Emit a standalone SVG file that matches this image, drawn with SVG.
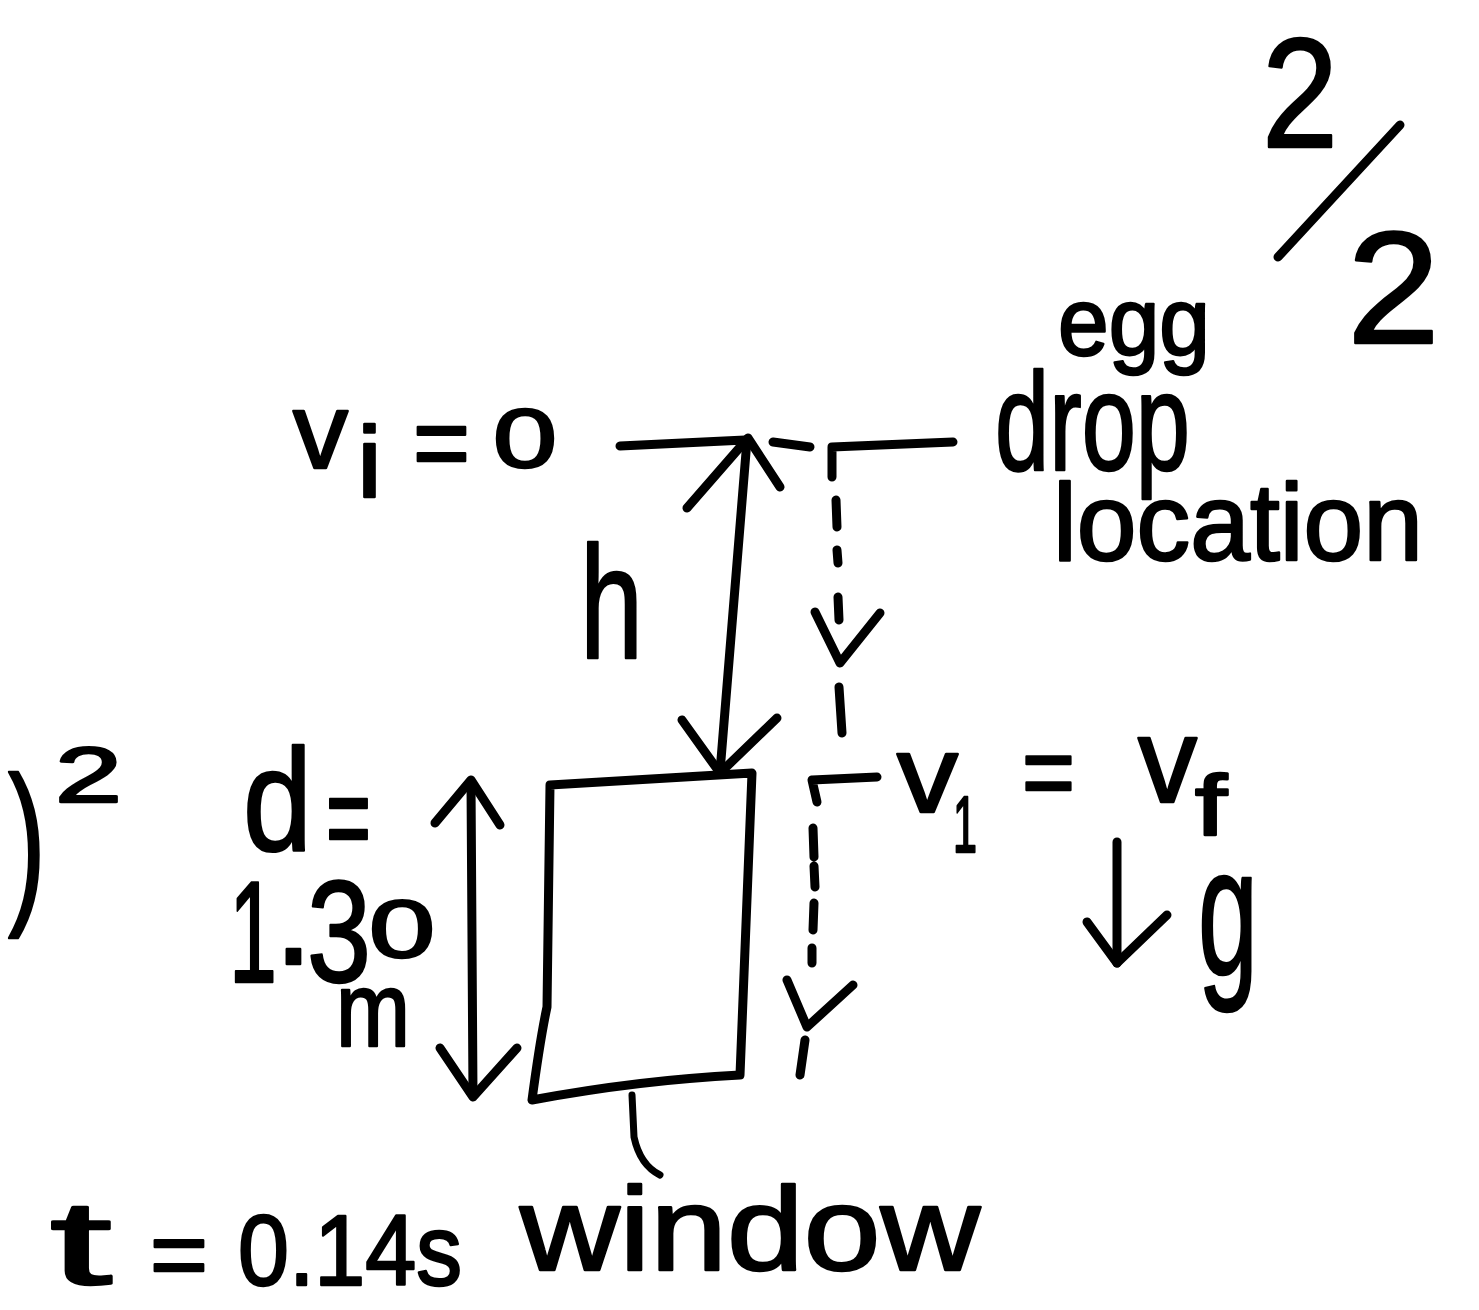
<svg xmlns="http://www.w3.org/2000/svg" width="1479" height="1310" viewBox="0 0 1479 1310">
<style>
.ink{fill:none;stroke:#000;stroke-width:9;stroke-linecap:round;stroke-linejoin:round}
.thin{fill:none;stroke:#000;stroke-width:7;stroke-linecap:round;stroke-linejoin:round}
.dash{fill:none;stroke:#000;stroke-width:9;stroke-linecap:round}
text{font-family:"Liberation Sans","DejaVu Sans",sans-serif;fill:#000;stroke:#000;stroke-width:2.5;stroke-linejoin:round}
</style>
<rect width="1479" height="1310" fill="#fff"/>

<g id="page-number">
<text x="1262" y="147" font-size="155" textLength="76" lengthAdjust="spacingAndGlyphs">2</text>
<line class="ink" x1="1400" y1="125" x2="1278" y2="257"/>
<text x="1347" y="343" font-size="160" textLength="93" lengthAdjust="spacingAndGlyphs">2</text>
</g>

<g id="drop-location-label">
<text><tspan x="1058" y="355" font-size="96" textLength="152" lengthAdjust="spacingAndGlyphs">egg</tspan><tspan x="995" y="470" font-size="140" textLength="195" lengthAdjust="spacingAndGlyphs">drop</tspan><tspan x="1053" y="560" font-size="110" textLength="370" lengthAdjust="spacingAndGlyphs">location</tspan></text>
</g>

<g id="vi-label">
<text><tspan x="293" y="468" font-size="108" textLength="55" lengthAdjust="spacingAndGlyphs">v</tspan><tspan x="357" y="497" font-size="100" textLength="25" lengthAdjust="spacingAndGlyphs">i</tspan><tspan x="413" y="479" font-size="106" textLength="57" lengthAdjust="spacingAndGlyphs">=</tspan><tspan x="493" y="467" font-size="83" textLength="64" lengthAdjust="spacingAndGlyphs">0</tspan></text>
</g>

<g id="h-label">
<text x="580" y="658" font-size="160" textLength="63" lengthAdjust="spacingAndGlyphs">h</text>
</g>

<g id="v1-label">
<text><tspan x="897" y="812" font-size="110" textLength="61" lengthAdjust="spacingAndGlyphs">v</tspan><tspan x="953" y="852" font-size="80" textLength="24" lengthAdjust="spacingAndGlyphs">1</tspan><tspan x="1022" y="807" font-size="103" textLength="53" lengthAdjust="spacingAndGlyphs">=</tspan><tspan x="1138" y="802" font-size="120" textLength="59" lengthAdjust="spacingAndGlyphs">v</tspan><tspan x="1195" y="835" font-size="86" textLength="32" lengthAdjust="spacingAndGlyphs">f</tspan></text>
</g>

<g id="g-label">
<text x="1198" y="974" font-size="182" textLength="60" lengthAdjust="spacingAndGlyphs">g</text>
</g>

<g id="exponent">
<text><tspan x="8" y="901" font-size="178" textLength="38" lengthAdjust="spacingAndGlyphs">)</tspan><tspan x="55" y="802" font-size="77" textLength="67" lengthAdjust="spacingAndGlyphs">2</tspan></text>
</g>

<g id="d-label">
<text><tspan x="243" y="850" font-size="144" textLength="69" lengthAdjust="spacingAndGlyphs">d</tspan><tspan x="326" y="860" font-size="125" textLength="45" lengthAdjust="spacingAndGlyphs">=</tspan><tspan x="229" y="982" font-size="145" textLength="48" lengthAdjust="spacingAndGlyphs">1</tspan><tspan x="274" y="964" font-size="140">.</tspan><tspan x="307" y="982" font-size="144" textLength="64" lengthAdjust="spacingAndGlyphs">3</tspan><tspan x="369" y="957" font-size="81" textLength="66" lengthAdjust="spacingAndGlyphs">0</tspan><tspan x="336" y="1046" font-size="105" textLength="74" lengthAdjust="spacingAndGlyphs">m</tspan></text>
</g>

<g id="window">
<path class="ink" stroke-width="10" d="M550,785 L752,773 L740,1075 Q640,1080 532,1100 Q540,1040 547,1007 Z"/>
</g>

<g id="window-label">
<text x="520" y="1270" font-size="118" textLength="460" lengthAdjust="spacingAndGlyphs">window</text>
</g>

<g id="t-label">
<text><tspan x="50" y="1284" font-size="118" textLength="62" lengthAdjust="spacingAndGlyphs">t</tspan><tspan x="150" y="1287" font-size="95" textLength="58" lengthAdjust="spacingAndGlyphs">=</tspan><tspan x="238" y="1285" font-size="100" textLength="224" lengthAdjust="spacingAndGlyphs">0.14s</tspan></text>
</g>

<g id="connectors">
<!-- top reference line -->
<path class="ink" d="M620,446 L745,440"/>
<path class="ink" d="M773,442 L810,447"/>
<path class="ink" d="M832,477 L832,447 L953,442"/>
<!-- h double arrow -->
<path class="ink" d="M747,440 L720,772"/>
<path class="ink" d="M687,508 L748,438 L780,487"/>
<path class="ink" stroke-width="11" d="M682,720 L720,773 L777,718"/>
<!-- dashed fall arrow 1 -->
<path class="dash" d="M836,500 L837,527 M837,550 L838,563 M838,597 L839,620 M839,687 L842,733"/>
<path class="ink" stroke-width="11" d="M815,612 L840,663 L880,613"/>
<!-- v1 reference line + dashed fall arrow 2 -->
<path class="ink" d="M817,802 L812,780 L877,777"/>
<path class="dash" d="M813,828 L814,857 M814,866 L815,887 M814,903 L813,930 M812,948 L812,963 M805,1040 L800,1075"/>
<path class="ink" stroke-width="11" d="M787,980 L807,1027 L853,985"/>
<!-- g arrow -->
<path class="ink" d="M1117,842 L1117,963"/>
<path class="ink" stroke-width="11" d="M1087,922 L1117,963 L1167,915"/>
<!-- d double arrow -->
<path class="ink" d="M471,782 L473,1095"/>
<path class="ink" d="M435,823 L471,780 L500,825"/>
<path class="ink" stroke-width="11" d="M440,1048 L473,1097 L517,1048"/>
<!-- window leader -->
<path class="thin" d="M632,1095 L634,1137 Q640,1165 660,1175"/>
</g>
</svg>
